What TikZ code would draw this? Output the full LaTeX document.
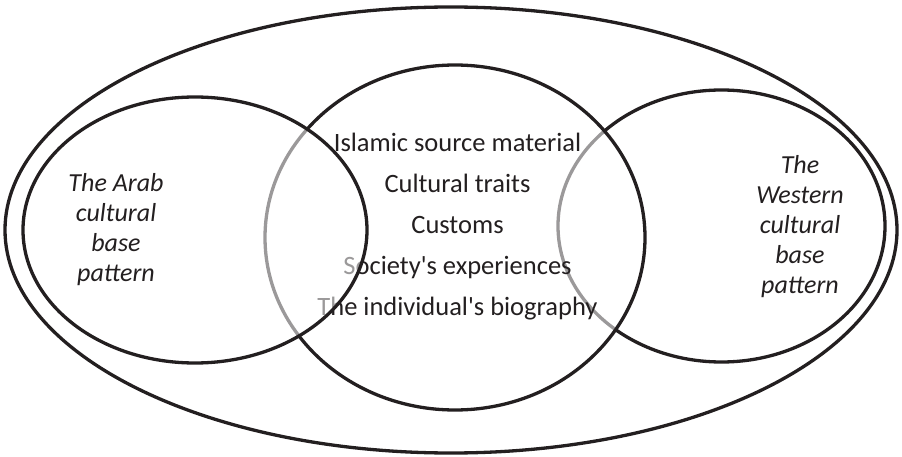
\documentclass[tikz,border=0pt]{standalone}
\usepackage{fontspec}
\setmainfont{Carlito}[Ligatures=TeXOff]
\usetikzlibrary{shapes.geometric}
\definecolor{ink}{HTML}{231F20}
\tikzset{
  ring/.style={draw=ink, line width=3.3pt, ellipse, inner sep=0pt},
  veil/.style={ring, fill=white, fill opacity=0.55},
  midtext/.style={text=ink, align=center, font=\fontsize{26.5}{41}\selectfont, inner sep=0pt},
  sidetext/.style={text=ink, align=center, font=\fontsize{26}{30}\itshape, inner sep=0pt}
}
\begin{document}
\begin{tikzpicture}[x=1pt,y=-1pt]
\useasboundingbox (0,0) rectangle (902,457);
\node[ring, minimum width=892pt, minimum height=446pt] (outer) at (451,230) {};
\node[ring, minimum width=327pt, minimum height=272pt] (west) at (721.5,226) {};
\node[veil, minimum width=380pt, minimum height=345pt] (mid) at (455,237.5) {};
\node[midtext] (core) at (457.5,227) {Islamic source material\\Cultural traits\\Customs\\Society's experiences\\The individual's biography};
\node[veil, minimum width=344pt, minimum height=266pt] (arab) at (195,230) {};
\node[sidetext] (arabtext) at (116,230) {The Arab\\cultural\\base\\pattern};
\node[sidetext] (westtext) at (800,227) {The\\Western\\cultural\\base\\pattern};
\end{tikzpicture}
\end{document}
